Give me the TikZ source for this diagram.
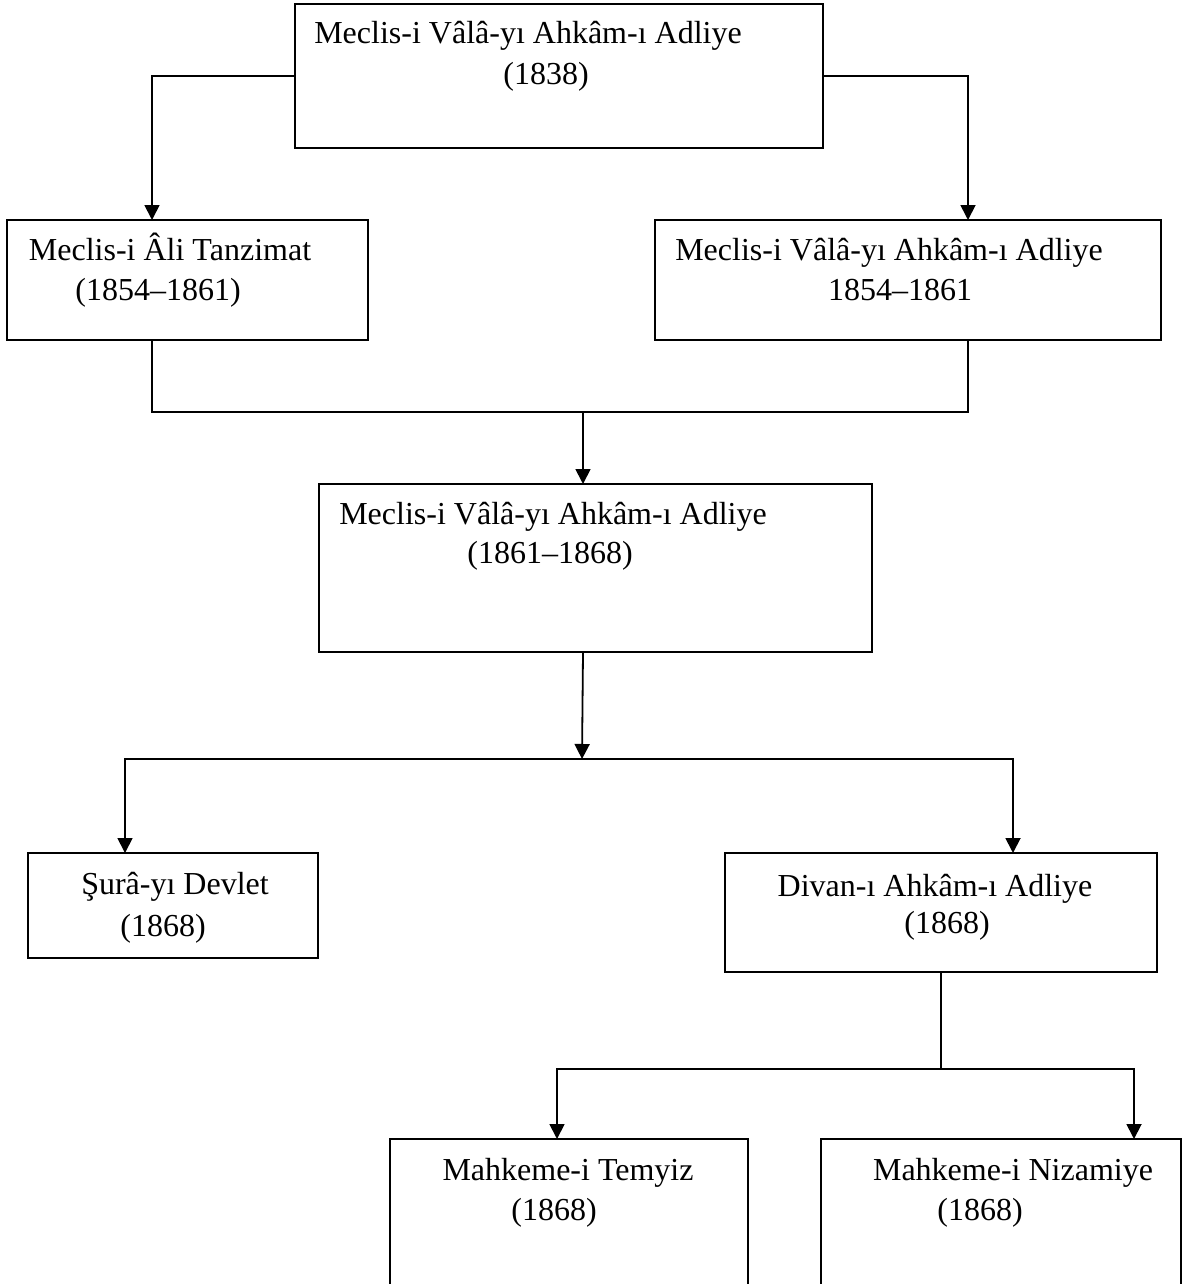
\documentclass[tikz,border=0pt]{standalone}
\usepackage{fontspec}
\setmainfont{Liberation Serif}
\usepackage{tikz}
\usetikzlibrary{arrows.meta}

\begin{document}
\begin{tikzpicture}[x=0.5pt, y=-0.5pt, line width=0.9pt,
    box/.style={draw, inner sep=0pt},
    txt/.style={anchor=base, inner sep=0pt, font=\fontsize{16}{20}\selectfont},
    arr/.style={-{Triangle[length=7.5pt,width=7.5pt]}}]
    \clip (0,0) rectangle (1191,1284);

    \node[box, minimum width=264pt, minimum height=72pt] (vala) at (559,76) {};
    \node[txt] (vala1) at (528,44) {Meclis-i Vâlâ-yı Ahkâm-ı Adliye};
    \node[txt] (vala2) at (546,84) {(1838)};

    \node[box, minimum width=180.5pt, minimum height=60pt] (tanz) at (187.5,280) {};
    \node[txt] (tanz1) at (170,260) {Meclis-i Âli Tanzimat};
    \node[txt] (tanz2) at (158,300) {(1854–1861)};

    \node[box, minimum width=253pt, minimum height=60pt] (valb) at (908,280) {};
    \node[txt] (valb1) at (889,260) {Meclis-i Vâlâ-yı Ahkâm-ı Adliye};
    \node[txt] (valb2) at (900,300) {1854–1861};

    \node[box, minimum width=276.5pt, minimum height=84pt] (valc) at (595.5,568) {};
    \node[txt] (valc1) at (553,524) {Meclis-i Vâlâ-yı Ahkâm-ı Adliye};
    \node[txt] (valc2) at (550,563) {(1861–1868)};

    \node[box, minimum width=145pt, minimum height=52.5pt] (sura) at (173,905.5) {};
    \node[txt] (sura1) at (175,894) {Şurâ-yı Devlet};
    \node[txt] (sura2) at (163,936) {(1868)};

    \node[box, minimum width=216pt, minimum height=59.5pt] (divan) at (941,912.5) {};
    \node[txt] (divan1) at (935,896) {Divan-ı Ahkâm-ı Adliye};
    \node[txt] (divan2) at (947,933) {(1868)};

    \node[box, minimum width=179pt, minimum height=80.5pt] (temyiz) at (569,1219.5) {};
    \node[txt] (temyiz1) at (568,1180) {Mahkeme-i Temyiz};
    \node[txt] (temyiz2) at (554,1220) {(1868)};

    \node[box, minimum width=180pt, minimum height=80.5pt] (nizam) at (1001,1219.5) {};
    \node[txt] (nizam1) at (1013,1180) {Mahkeme-i Nizamiye};
    \node[txt] (nizam2) at (980,1220) {(1868)};

    % junctions and connector ends
    \coordinate (tanzin) at (152,220);
    \coordinate (tanzout) at (152,340);
    \coordinate (valbin) at (968,220);
    \coordinate (valbout) at (968,340);
    \coordinate (ja) at (583,412);
    \coordinate (valcin) at (583,484);
    \coordinate (valcout) at (583,652);
    \coordinate (jb) at (582,759);
    \coordinate (surain) at (125,853);
    \coordinate (divanin) at (1013,853);
    \coordinate (jc) at (941,1069);
    \coordinate (temyizin) at (557,1139);
    \coordinate (nizamin) at (1134,1139);

    \draw[arr] (vala.west) -| (tanzin);
    \draw[arr] (vala.east) -| (valbin);
    \draw (tanzout) |- (ja) -| (valbout);
    \draw[arr] (ja) -- (valcin);
    \draw[arr] (valcout) -- (jb);
    \draw[arr] (jb) -| (surain);
    \draw[arr] (jb) -| (divanin);
    \draw (divan.south) -- (jc);
    \draw[arr] (jc) -| (temyizin);
    \draw[arr] (jc) -| (nizamin);
\end{tikzpicture}
\end{document}
